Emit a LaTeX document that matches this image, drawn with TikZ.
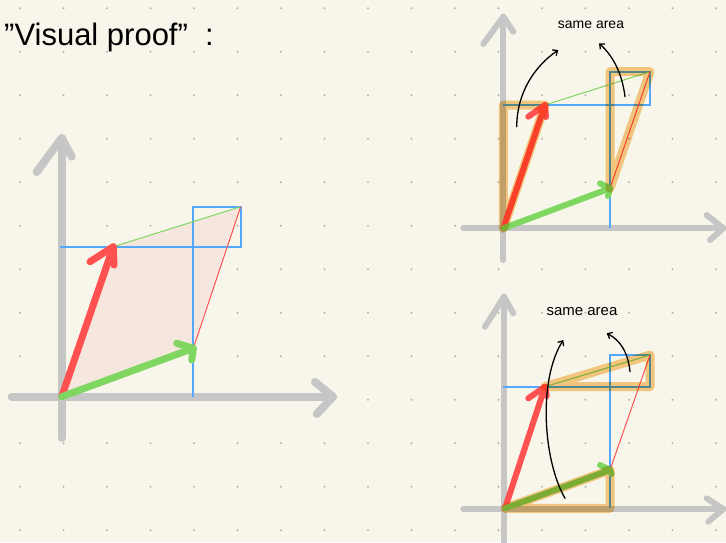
\documentclass[tikz,border=0pt]{standalone}
\usepackage{fontspec}
\setmainfont{Liberation Sans}
\usetikzlibrary{arrows.meta,calc}
\definecolor{bgc}{RGB}{248,246,234}
\definecolor{dotc}{RGB}{180,180,172}
\definecolor{axisc}{RGB}{198,198,198}
\definecolor{redc}{RGB}{255,82,80}
\definecolor{greenc}{RGB}{127,214,96}
\definecolor{bluec}{RGB}{84,168,255}
\definecolor{orangec}{RGB}{245,172,60}
\definecolor{pinkc}{RGB}{245,230,222}
\tikzset{
  axisline/.style={draw=axisc,line width=#1,line cap=round,line join=round},
  axisline/.default=6,
  redvec/.style={draw=redc,line width=#1,line cap=round,line join=round},
  redvec/.default=6,
  greenvec/.style={draw=greenc,line width=#1,line cap=round,line join=round},
  greenvec/.default=6,
  blueline/.style={draw=bluec,line width=2.2},
  thinred/.style={draw=redc,line width=1},
  thingreen/.style={draw=greenc,line width=1},
  hilite/.style={draw=orangec,line width=9,line cap=round,line join=round,opacity=0.6,blend mode=multiply},
  handarrow/.style={draw=black,line width=1.3,line cap=round,-{Straight Barb[length=4pt,width=7pt]}},
  lbl/.style={font=\fontsize{14}{16}\selectfont,inner sep=0pt},
}
\begin{document}
\begin{tikzpicture}[x=1pt,y=-1pt]
\fill[bgc] (0,0) rectangle (726,542);
\useasboundingbox (0,0) rectangle (726,542);
% dot grid
\foreach \i in {0,...,16}{\foreach \j in {0,...,12}{
  \fill[dotc] (20+43.5*\i,8.3+43.5*\j) circle (1.1);}}
% title
\node[anchor=base west,inner sep=0pt,font=\fontsize{31}{34}\selectfont] (title) at (4,45) {\symbol{34}Visual proof\symbol{34}\ \ :};

% ===== left diagram =====
\coordinate (oA) at (61.7,396.7);
\coordinate (rA) at (113.3,246.7);
\coordinate (gA) at (193.3,348.3);
\coordinate (sA) at (240.7,206.7);
\fill[pinkc] (oA) -- (gA) -- (sA) -- (rA) -- cycle;
\draw[axisline=8] (11.7,396.7) coordinate (xA0) -- (333,396.7) coordinate (xA1);
\draw[axisline=8] (315,382) -- (xA1) -- (316.7,414);
\draw[axisline=8] (61.7,438) coordinate (yA0) -- (61.7,138) coordinate (yA1);
\draw[axisline=8] (36.7,172) -- (yA1) -- (71.7,156.7);
\draw[blueline] (60,246.7) -- (sA |- rA) -- (sA) -- (gA |- sA) -- (gA |- oA);
\draw[thingreen] (rA) -- (sA);
\draw[thinred] (gA) -- (sA);
\draw[redvec=7] (oA) -- (rA);
\draw[redvec=7] (90,261.7) -- (rA) -- (114,265);
\draw[greenvec=7] (oA) -- (gA);
\draw[greenvec=7] (176.7,343.3) -- (gA) -- (191.7,360);

% ===== top-right diagram =====
\coordinate (oB) at (503.3,228.3);
\coordinate (rB) at (545,105);
\coordinate (gB) at (610,188.3);
\coordinate (sB) at (650,71.7);
\draw[axisline] (463.3,228.3) -- (723.3,228.3) coordinate (xB1);
\draw[axisline] (706.7,215) -- (xB1) -- (710,240);
\draw[axisline] (503.3,260) -- (503.3,16.7) coordinate (yB1);
\draw[axisline] (483.3,44) -- (yB1) -- (513.3,31.7);
\draw[blueline] (oB |- rB) -- (sB |- rB) -- (sB) -- (gB |- sB) -- (gB |- oB);
\draw[thingreen] (rB) -- (sB);
\draw[thinred] (gB) -- (sB);
\draw[redvec] (oB) -- (rB);
\draw[redvec] (528.3,116.7) -- (rB) -- (546,117);
\draw[greenvec] (oB) -- (gB);
\draw[greenvec] (600,183.3) -- (gB) -- (608,196);
\draw[hilite] (oB) -- (oB |- rB) -- (rB) -- cycle;
\draw[hilite] (gB) -- (gB |- sB) -- (sB) -- cycle;
\node[lbl] (tB) at (591,25) {same area};
\draw[handarrow] (516.7,126.7) .. controls (517,92) and (535,66) .. (558.3,50);
\draw[handarrow] (625,96.7) .. controls (622,72) and (612,55) .. (599,43.3);

% ===== bottom-right diagram =====
\coordinate (oC) at (505,508.3);
\coordinate (rC) at (545,386.7);
\coordinate (gC) at (610,470);
\coordinate (sC) at (650,355);
\draw[axisline] (463.3,509) -- (723.3,509) coordinate (xC1);
\draw[axisline] (706.7,498.3) -- (xC1) -- (708.3,521.7);
\draw[axisline] (504,548) -- (504,296.7) coordinate (yC1);
\draw[axisline] (485,326.7) -- (yC1) -- (513.3,313.3);
\draw[blueline] (503,386.7) -- (sC |- rC) -- (sC) -- (gC |- sC) -- (gC |- oC);
\draw[thingreen] (rC) -- (sC);
\draw[thinred] (gC) -- (sC);
\draw[redvec] (oC) -- (rC);
\draw[redvec] (528.3,398.3) -- (rC) -- (546.7,396);
\draw[greenvec] (oC) -- (gC);
\draw[greenvec] (600,465) -- (gC) -- (611.5,474);
\draw[hilite] (oC) -- (gC |- oC) -- (gC) -- cycle;
\draw[hilite] (rC) -- (sC |- rC) -- (sC) -- cycle;
\node[lbl,font=\fontsize{15}{17}\selectfont] (tC) at (582,312) {same area};
\draw[handarrow] (565,498.3) .. controls (543,460) and (538,380) .. (563.3,340);
\draw[handarrow] (630,371.7) .. controls (628,352) and (620,340) .. (606.7,333.3);
\end{tikzpicture}
\end{document}
